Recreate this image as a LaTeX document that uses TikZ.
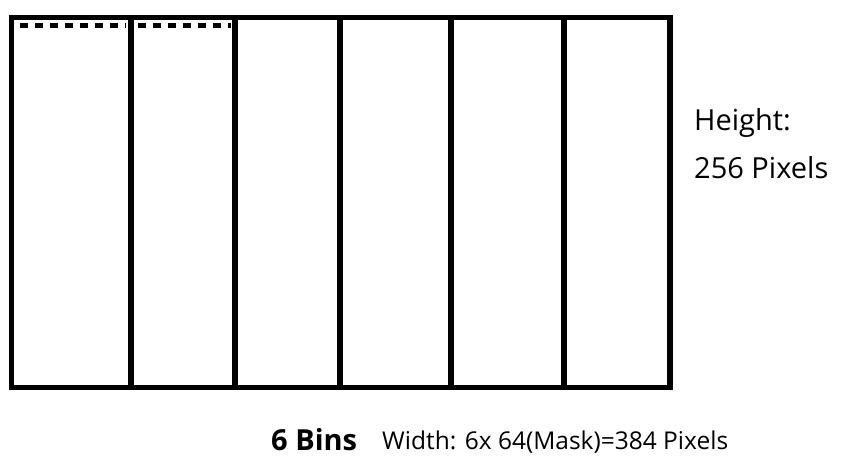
\documentclass[tikz,border=0pt]{standalone}
\usepackage{fontspec}
\setmainfont{Open Sans}
\usetikzlibrary{positioning}
\begin{document}
\begin{tikzpicture}[x=1pt,y=-1pt,
  binline/.style={line width=5.5pt},
  topdash/.style={line width=5pt,dash pattern=on 8pt off 7pt},
  lbl/.style={anchor=base west,inner sep=0pt,font=\fontsize{29}{34}\selectfont},
  widthlbl/.style={anchor=base west,inner sep=0pt,font=\fontsize{24.5}{28}\selectfont}
]
  \useasboundingbox (0,0) rectangle (845,460);
  % Bins
  \draw[binline] (11.5,17.5) rectangle (670,387.5);
  \foreach \xb in {131,235,340,451,564}
    \draw[binline] (\xb,17.5) -- (\xb,387.5);
  % Dashed tops
  \draw[topdash] (20,25.5) -- (126,25.5);
  \draw[topdash] (138,25.5) -- (231,25.5);
  % Labels
  \node[lbl] (height) at (694,130) {Height:};
  \node[lbl] (pixels) at (694,178) {256 Pixels};
  \node[anchor=base west,inner sep=0pt,font=\fontsize{29}{32}\selectfont\bfseries] (bins) at (271,450) {6 Bins};
  \node[widthlbl] (width) at (382,449) {Width: 6x 64(Mask)=384 Pixels};
\end{tikzpicture}
\end{document}
